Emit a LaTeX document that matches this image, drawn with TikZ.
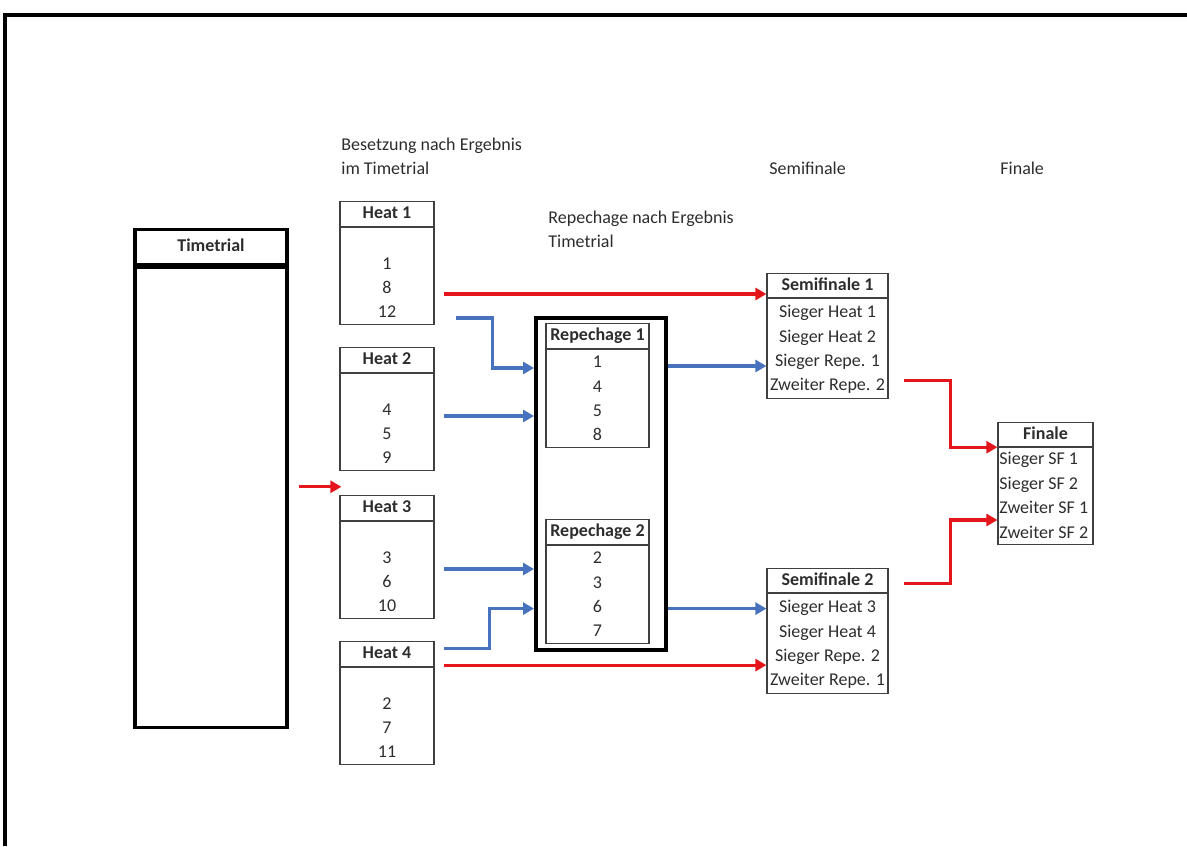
\documentclass[tikz,border=0pt]{standalone}
\usepackage{fontspec}
\setmainfont{Carlito}
\usetikzlibrary{arrows.meta,calc}
\definecolor{arred}{RGB}{228,22,28}
\definecolor{arblue}{RGB}{70,114,190}
\definecolor{txtgray}{RGB}{45,45,45}

\tikzset{
  hdcell/.style={draw=black!75, line width=0.6pt, anchor=north, inner sep=0pt,
    text height=6.6pt, text depth=1.8pt, font=\fontsize{9}{12}\selectfont\bfseries},
  bodycell/.style={draw=black!75, line width=0.6pt, anchor=north, inner sep=0pt},
  rowtxt/.style={inner sep=0pt, text height=6.6pt, text depth=1.8pt},
  lbl/.style={anchor=west, align=left, inner sep=0pt},
  sepline/.style={draw=black!75, line width=1.1pt},
  redarr/.style={draw=arred, line width=1.6pt, -{Triangle[length=5.5pt,width=6pt]}},
  bluearr/.style={draw=arblue, line width=1.6pt, -{Triangle[length=5.5pt,width=6pt]}}
}

\begin{document}
\begin{tikzpicture}[x=0.5pt, y=-0.5pt, font=\fontsize{9}{12}\selectfont, text=txtgray]

\useasboundingbox (0,0) rectangle (1187,846);

% ---- outer frame (top and left edge only) ----
\draw[line width=1.7pt] (5,846) -- (5,15) -- (1187,15);

% ---- column labels ----
\node[lbl] (lblheat) at (341,156) {Besetzung nach Ergebnis\\im Timetrial};
\node[lbl] (lblrep) at (548,229) {Repechage nach Ergebnis\\Timetrial};
\node[lbl] (lblsemi) at (769,168) {Semifinale};
\node[lbl] (lblfin) at (1000,168) {Finale};

% ---- Timetrial ----
\node[hdcell, draw=black, line width=1.6pt, minimum width=76pt, minimum height=17.5pt] (tt) at (211,228) {Timetrial};
\node[bodycell, draw=black, line width=1.6pt, minimum width=76pt, minimum height=230pt] (ttb) at (tt.south) {};

% ---- Heats ----
\foreach \n/\t/\lst in {1/201/{1,8,12}, 2/347/{4,5,9}, 3/495/{3,6,10}, 4/641/{2,7,11}} {
  \node[hdcell, minimum width=47pt, minimum height=12.5pt] (heat\n) at (387,\t) {Heat \n};
  \node[bodycell, minimum width=47pt, minimum height=48.5pt] (heat\n b) at (heat\n.south) {};
  \draw[sepline] (heat\n.south west) -- (heat\n.south east);
  \foreach \r [count=\k] in \lst
    \node[rowtxt] (heat\n-\k) at (387,{\t+64+24*(\k-1)}) {\r};
}

% ---- Repechage ----
\node[draw=black, line width=2pt, minimum width=65pt, minimum height=166pt, anchor=north west, inner sep=0pt] (repbox) at (534,316) {};
\foreach \n/\t/\lst in {1/323/{1,4,5,8}, 2/519/{2,3,6,7}} {
  \node[hdcell, minimum width=51.5pt, minimum height=12.5pt] (rep\n) at (597.5,\t) {Repechage \n};
  \node[bodycell, minimum width=51.5pt, minimum height=49pt] (rep\n b) at (rep\n.south) {};
  \draw[sepline] (rep\n.south west) -- (rep\n.south east);
  \foreach \r [count=\k] in \lst
    \node[rowtxt] (rep\n-\k) at (597.5,{\t+40+24.3*(\k-1)}) {\r};
}

% ---- Semifinale ----
\foreach \n/\t/\lst in {1/273/{Sieger Heat 1,Sieger Heat 2,Sieger Repe. 1,Zweiter Repe. 2},
                        2/568/{Sieger Heat 3,Sieger Heat 4,Sieger Repe. 2,Zweiter Repe. 1}} {
  \node[hdcell, minimum width=60.5pt, minimum height=12pt] (semi\n) at (827.5,\t) {Semifinale \n};
  \node[bodycell, minimum width=60.5pt, minimum height=50pt] (semi\n b) at (semi\n.south) {};
  \draw[sepline] (semi\n.south west) -- (semi\n.south east);
  \foreach \r [count=\k] in \lst
    \node[rowtxt] (semi\n-\k) at (827.5,{\t+40+24.2*(\k-1)}) {\r};
}

% ---- Finale ----
\node[hdcell, minimum width=47.5pt, minimum height=12pt] (fin) at (1045.5,422) {Finale};
\node[bodycell, minimum width=47.5pt, minimum height=48.5pt] (finb) at (fin.south) {};
\draw[sepline] (fin.south west) -- (fin.south east);
\foreach \r [count=\k] in {Sieger SF 1,Sieger SF 2,Zweiter SF 1,Zweiter SF 2}
  \node[rowtxt, anchor=west] (fin-\k) at (999,{460+24.5*(\k-1)}) {\r};

% ---- red arrows ----
\draw[redarr] ($(ttb.east)+(10,-11)$) -- ($(heat3.west |- ttb.east)+(2,-11)$);
\draw[redarr] ($(heat1b.east |- heat1-2)+(9,5)$) -- ($(semi1.west |- heat1-2)+(0,5)$);
\draw[redarr] ($(heat4.east)+(9,11)$) -- ($(semi2.west |- heat4.east)+(0,11)$);
\draw[redarr] ($(semi1b.east |- semi1-4)+(15,-5)$) -- ++(47,0) |- (finb.north west);
\draw[redarr] ($(semi2.east)+(15,3)$) -- ++(47,0) |- ($(finb.west |- fin-3)+(0,11)$);

% ---- blue arrows ----
\draw[bluearr] ($(heat1b.east |- heat1-3)+(21,5)$) -- ++(37,0) |- ($(repbox.west |- rep1-1)+(0,5)$);
\draw[bluearr] ($(heat2b.east |- heat2-1)+(9,5)$) -- ($(repbox.west |- heat2-1)+(0,5)$);
\draw[bluearr] ($(heat3b.east |- heat3-1)+(9,10)$) -- ($(repbox.west |- heat3-1)+(0,10)$);
\draw[bluearr] ($(heat4.east)+(9,-6)$) -- ++(46,0) |- ($(repbox.west |- rep2-3)+(0,1)$);
\draw[bluearr] ($(repbox.east |- rep1-1)+(0,3)$) -- ($(semi1.west |- rep1-1)+(0,3)$);
\draw[bluearr] ($(repbox.east |- rep2-3)+(0,1)$) -- ($(semi2.west |- rep2-3)+(0,1)$);

\end{tikzpicture}
\end{document}
